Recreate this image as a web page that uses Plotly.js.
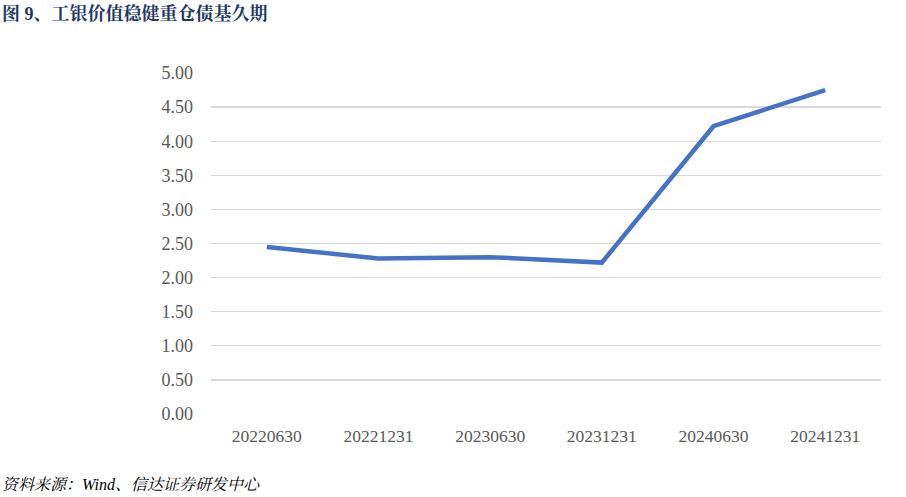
<!DOCTYPE html>
<html><head><meta charset="utf-8">
<script src="https://cdn.plot.ly/plotly-3.0.1.min.js"></script>
<style>html,body{margin:0;padding:0;background:#fff;}#c{width:906px;height:497px;}</style>
</head><body><div id="c"></div>
<script>
const categories = ["20220630","20221231","20230630","20231231","20240630","20241231"];
const durations = [2.45, 2.28, 2.30, 2.22, 4.22, 4.75];
const yTickVals = [0,0.5,1,1.5,2,2.5,3,3.5,4,4.5,5];
const yTickText = ["0.00","0.50","1.00","1.50","2.00","2.50","3.00","3.50","4.00","4.50","5.00"];
const chartTitle = "图 9、工银价值稳健重仓债基久期";
const sourceText = "资料来源：Wind、信达证券研发中心";

const serif = '"Liberation Serif", "Times New Roman", "Noto Serif CJK SC", "Noto Sans CJK SC", serif';
Plotly.newPlot('c', [{
  x: categories, y: durations, type: 'scatter', mode: 'lines',
  line: {color: '#4472c4', width: 4.5}, hoverinfo: 'skip'
}], {
  width: 906, height: 497,
  margin: {l: 211, r: 25, t: 73, b: 83},
  paper_bgcolor: '#fff', plot_bgcolor: '#fff',
  showlegend: false,
  font: {family: serif, size: 17.5, color: '#595959'},
  xaxis: {type: 'category', range: [-0.5, 5.5], showgrid: false, zeroline: false, showline: false,
          ticks: '', tickfont: {size: 17.5, color: '#595959'}, ticklabelstandoff: 9},
  yaxis: {range: [0, 5], tickvals: yTickVals, ticktext: yTickText, showgrid: true,
          gridcolor: '#d9d9d9', gridwidth: 1.3, zeroline: false, showline: false, ticks: '',
          tickfont: {size: 18, color: '#595959'}, ticklabelstandoff: 17},
  annotations: [
    {text: '<b>' + chartTitle + '</b>', xref: 'paper', yref: 'paper', x: -211/670, y: 1 + 59/341,
     xanchor: 'left', yanchor: 'middle', showarrow: false,
     font: {family: serif, size: 18, color: '#1f3864'}},
    {text: '<i>' + sourceText + '</i>', xref: 'paper', yref: 'paper', x: -211/670, y: -70/341,
     xanchor: 'left', yanchor: 'middle', showarrow: false,
     font: {family: serif, size: 16, color: '#000'}}
  ]
}, {staticPlot: true});
</script></body></html>
